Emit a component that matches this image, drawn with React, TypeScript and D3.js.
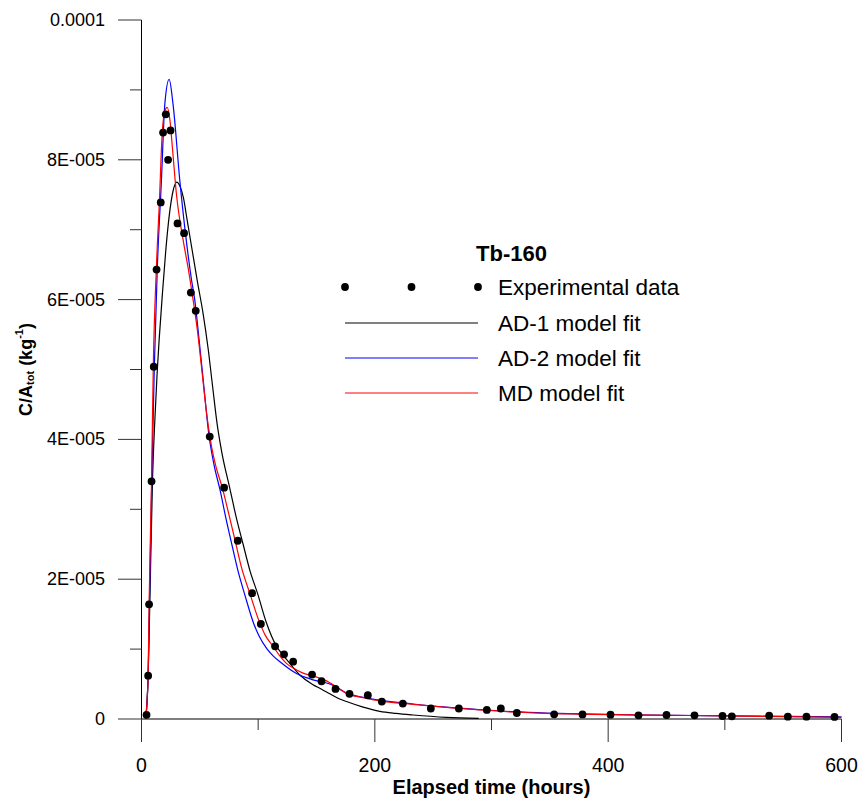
import React from "react";
import * as d3 from "d3";

// Experimental data: elapsed time (hours), C/Atot (x1e-5 kg^-1)
const expT = [4.3, 5.7, 6.5, 8.6, 10.5, 12.9, 16.5, 18.5, 20.8, 22.8, 24.9, 30.9, 36.5, 42.3, 46.5, 58.5, 70.8, 82.5, 94.8, 102.3, 114.5, 122.2, 130, 146.2, 154.3, 166.3, 178.3, 194, 206, 224, 248, 272, 296, 308, 321.7, 353.7, 378, 402, 426, 450, 474, 498, 506, 538, 554, 570, 594];
const expV = [0.06, 0.62, 1.64, 3.4, 5.04, 6.43, 7.39, 8.39, 8.65, 8.0, 8.42, 7.09, 6.95, 6.1, 5.84, 4.04, 3.31, 2.55, 1.8, 1.36, 1.04, 0.925, 0.82, 0.635, 0.54, 0.43, 0.36, 0.34, 0.25, 0.22, 0.15, 0.15, 0.13, 0.15, 0.086, 0.067, 0.065, 0.062, 0.053, 0.057, 0.053, 0.043, 0.038, 0.047, 0.033, 0.033, 0.029];

// AD-1 model fit (black)
const ad1T = [3.6, 5.7, 7.1, 9.4, 11.5, 13.4, 15.1, 18, 20.8, 23.7, 27, 30.3, 33, 36, 39, 42.9, 48, 52.8, 57.1, 61, 65, 69, 75.7, 81, 87.1, 93, 99.4, 107, 115.7, 122, 127, 135.7, 147, 154, 161.4, 168, 175.7, 190, 204.3, 218, 232.8, 261.4, 289];
const ad1V = [0, 0.62, 1.64, 3.4, 4.3, 4.95, 5.42, 6.1, 6.7, 7.19, 7.55, 7.68, 7.62, 7.45, 7.15, 6.76, 6.25, 5.8, 5.3, 4.75, 4.2, 3.8, 3.3, 2.9, 2.5, 2.12, 1.8, 1.38, 1.04, 0.9, 0.8, 0.63, 0.49, 0.43, 0.36, 0.3, 0.25, 0.17, 0.11, 0.08, 0.057, 0.024, 0.01];

// AD-2 model fit (blue)
const ad2T = [3.5, 5.7, 6.8, 8.8, 11, 13.5, 17.1, 20, 23.7, 27, 32.8, 38, 42.9, 45.7, 49.4, 53.5, 57.5, 62, 67.7, 72, 77.4, 83, 88.5, 96.3, 101, 107.7, 113, 120, 132.8, 147, 161.4, 167, 175.7, 190, 204, 232.8, 261, 290, 318.5, 347, 375.7, 420, 474, 530, 600];
const ad2V = [0, 0.62, 1.64, 3.4, 5.04, 6.43, 7.71, 8.8, 9.15, 8.8, 7.71, 6.9, 6.28, 5.99, 5.42, 4.75, 4.1, 3.65, 3.25, 2.9, 2.5, 2.1, 1.78, 1.36, 1.18, 1.0, 0.9, 0.8, 0.65, 0.56, 0.5, 0.455, 0.37, 0.31, 0.27, 0.215, 0.17, 0.135, 0.105, 0.085, 0.072, 0.06, 0.05, 0.04, 0.03];

// MD model fit (red)
const mdT = [3.6, 5.7, 6.5, 8.6, 10.1, 12.7, 15.3, 17.8, 20, 22, 24.5, 26.6, 30, 35.7, 40, 44.3, 48, 52, 56, 60, 64, 69.4, 75, 80.3, 86, 92.8, 100.8, 106, 112.8, 118.7, 124, 130, 138, 147, 155, 161.4, 167, 175.7, 182, 190, 204, 232.8, 261, 290, 318.5, 347, 375.7, 420, 474, 530, 600];
const mdV = [0, 0.62, 1.64, 3.4, 5.04, 6.43, 7.39, 8.39, 8.7, 8.75, 8.55, 8.15, 7.5, 6.85, 6.45, 5.99, 5.55, 4.95, 4.35, 3.9, 3.6, 3.3, 2.92, 2.55, 2.15, 1.8, 1.4, 1.2, 1.04, 0.9, 0.8, 0.73, 0.66, 0.615, 0.57, 0.52, 0.46, 0.37, 0.33, 0.305, 0.26, 0.21, 0.167, 0.13, 0.1, 0.08, 0.07, 0.058, 0.05, 0.038, 0.024];

const xTicksMajor = [0, 200, 400, 600];
const xTicksMinor = [100, 300, 500];
const yTicksMajor = [0, 2e-5, 4e-5, 6e-5, 8e-5, 1e-4];
const yTickLabels = ["0", "2E-005", "4E-005", "6E-005", "8E-005", "0.0001"];
const yTicksMinor = [1e-5, 3e-5, 5e-5, 7e-5, 9e-5];

const legendTitle = "Tb-160";
const legendLabels = ["Experimental data", "AD-1 model fit", "AD-2 model fit", "MD model fit"];

const FONT = "'Liberation Sans', Arial, sans-serif";

export default function App() {
  const W = 862, H = 799;
  const x = d3.scaleLinear().domain([0, 600]).range([141.5, 841.5]);
  const y = d3.scaleLinear().domain([0, 1e-4]).range([719, 20]);

  const line = d3
    .line<[number, number]>()
    .x((d) => x(d[0]))
    .y((d) => y(d[1] * 1e-5))
    .curve(d3.curveMonotoneX);

  const zip = (a: number[], b: number[]) => a.map((t, i) => [t, b[i]] as [number, number]);

  const series = [
    { t: ad1T, v: ad1V, color: "#000000" },
    { t: ad2T, v: ad2V, color: "#0000ff" },
    { t: mdT, v: mdV, color: "#ff0000" },
  ];

  const legX0 = 345, legX1 = 478, legTextX = 498;
  const legRows = [287, 323, 358, 393];

  return (
    <div style={{ position: "absolute", left: 0, top: 0 }}>
      <svg width={W} height={H} style={{ display: "block", background: "#fff" }}>
        {/* axes */}
        <line x1={x(0)} x2={x(0)} y1={y(1e-4)} y2={742} stroke="#000" strokeWidth={1} />
        <line x1={x(0)} x2={x(600)} y1={y(0)} y2={y(0)} stroke="#555" strokeWidth={1.3} />
        {xTicksMajor.map((t) => (
          <g key={"xm" + t}>
            <line x1={x(t)} x2={x(t)} y1={y(0)} y2={742} stroke="#333" strokeWidth={1} />
            <text x={x(t)} y={765} textAnchor="middle" dominantBaseline="central" fontFamily={FONT} fontSize={19.5} fill="#000">
              {t}
            </text>
          </g>
        ))}
        {xTicksMinor.map((t) => (
          <line key={"xn" + t} x1={x(t)} x2={x(t)} y1={y(0)} y2={730} stroke="#333" strokeWidth={1} />
        ))}
        {yTicksMajor.map((v, i) => (
          <g key={"ym" + i}>
            <line x1={118} x2={x(0)} y1={y(v)} y2={y(v)} stroke="#333" strokeWidth={1} />
            <text x={105} y={y(v)} textAnchor="end" dominantBaseline="central" fontFamily={FONT} fontSize={18} fill="#000">
              {yTickLabels[i]}
            </text>
          </g>
        ))}
        {yTicksMinor.map((v, i) => (
          <line key={"yn" + i} x1={130} x2={x(0)} y1={y(v)} y2={y(v)} stroke="#333" strokeWidth={1} />
        ))}

        {/* axis titles */}
        <text x={(x(0) + x(600)) / 2} y={787} textAnchor="middle" dominantBaseline="central" fontFamily={FONT} fontSize={20} fontWeight="bold">
          Elapsed time (hours)
        </text>
        <text
          transform={`translate(26, ${(y(0) + y(1e-4)) / 2}) rotate(-90)`}
          textAnchor="middle"
          dominantBaseline="central"
          fontFamily={FONT}
          fontSize={18}
          fontWeight="bold"
        >
          C/A
          <tspan fontSize={11} dy={4}>tot</tspan>
          <tspan dy={-4}> (kg</tspan>
          <tspan fontSize={11} dy={-7}>-1</tspan>
          <tspan dy={7}>)</tspan>
        </text>

        {/* model lines */}
        {series.map((s, i) => (
          <path key={"s" + i} d={line(zip(s.t, s.v)) || ""} fill="none" stroke={s.color} strokeWidth={1.2} />
        ))}

        {/* experimental points */}
        {expT.map((t, i) => (
          <circle key={"p" + i} cx={x(t)} cy={y(expV[i] * 1e-5)} r={3.9} fill="#000" />
        ))}

        {/* legend */}
        <text x={476} y={253} dominantBaseline="central" fontFamily={FONT} fontSize={22} fontWeight="bold">
          {legendTitle}
        </text>
        {[legX0, (legX0 + legX1) / 2, legX1].map((cx, i) => (
          <circle key={"ld" + i} cx={cx} cy={legRows[0]} r={3.9} fill="#000" />
        ))}
        {series.map((s, i) => (
          <line key={"ll" + i} x1={legX0} x2={legX1} y1={legRows[i + 1]} y2={legRows[i + 1]} stroke={s.color} strokeWidth={1} />
        ))}
        {legendLabels.map((lab, i) => (
          <text key={"lt" + i} x={legTextX} y={legRows[i]} dominantBaseline="central" fontFamily={FONT} fontSize={22.5} fill="#000">
            {lab}
          </text>
        ))}
      </svg>
    </div>
  );
}
